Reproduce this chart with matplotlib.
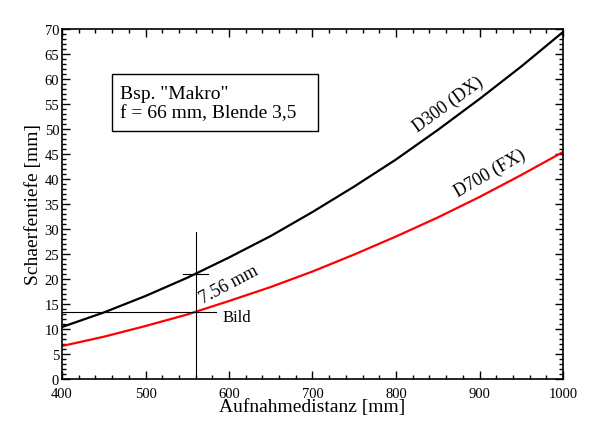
import matplotlib
matplotlib.use("Agg")
import matplotlib.pyplot as plt
from matplotlib.patches import Rectangle
from matplotlib.ticker import MultipleLocator

# Aufnahmedistanz [mm]
distanz = [400, 450, 500, 550, 600, 650, 700, 750, 800, 850, 900, 950, 1000]
# Schaerfentiefe [mm]
d300_dx = [10.4, 13.3, 16.6, 20.25, 24.3, 28.6, 33.4, 38.5, 43.9, 49.8, 56.0, 62.5, 69.4]
d700_fx = [6.6, 8.45, 10.6, 12.9, 15.6, 18.4, 21.5, 24.9, 28.5, 32.3, 36.4, 40.8, 45.4]

# Markierung "Bild"
bild_x = 560
bild_y_fx = 13.5
bild_y_dx = 21.06

plt.rcParams['font.family'] = ['Liberation Serif', 'DejaVu Serif']

fig = plt.figure(figsize=(6, 4.35), dpi=100)
ax = fig.add_axes([62 / 600, 55 / 435, 501 / 600, 350 / 435])

ax.plot(distanz, d300_dx, color='black', lw=1.6)
ax.plot(distanz, d700_fx, color='red', lw=1.6)

# Fadenkreuz
ax.plot([bild_x, bild_x], [0, 29.4], color='black', lw=0.8)
ax.plot([400, 585], [bild_y_fx, bild_y_fx], color='black', lw=0.8)
ax.plot([545, 575], [bild_y_dx, bild_y_dx], color='black', lw=0.8)

ax.text(600, 19.0, "7.56 mm", fontsize=13, rotation=28, ha='center', va='center')
ax.text(592, 12.4, "Bild", fontsize=12, ha='left', va='center')
ax.text(862, 55.0, "D300 (DX)", fontsize=13, rotation=36, ha='center', va='center')
ax.text(913, 41.3, "D700 (FX)", fontsize=13, rotation=30, ha='center', va='center')

# Info-Kasten
ax.add_patch(Rectangle((0.0998, 0.709), 0.411, 0.162, transform=ax.transAxes,
                       fill=False, ec='black', lw=1.0))
ax.text(0.116, 0.789, 'Bsp. "Makro"\nf = 66 mm, Blende 3,5', transform=ax.transAxes,
        fontsize=14, ha='left', va='center', linespacing=1.15)

ax.set_xlim(400, 1000)
ax.set_ylim(0, 70)
ax.xaxis.set_major_locator(MultipleLocator(100))
ax.xaxis.set_minor_locator(MultipleLocator(20))
ax.yaxis.set_major_locator(MultipleLocator(5))
ax.yaxis.set_minor_locator(MultipleLocator(1))
ax.tick_params(which='both', direction='in', top=True, right=True, labelsize=10.5)
ax.tick_params(axis='x', pad=5.5)
ax.tick_params(axis='y', pad=2)
ax.tick_params(which='major', length=6, width=1)
ax.tick_params(which='minor', length=3, width=1)
for s in ax.spines.values():
    s.set_linewidth(1.2)

ax.set_xlabel("Aufnahmedistanz [mm]", fontsize=14, labelpad=-1)
ax.set_ylabel("Schaerfentiefe [mm]", fontsize=14, labelpad=2)

fig.savefig("out.png", dpi=100)
